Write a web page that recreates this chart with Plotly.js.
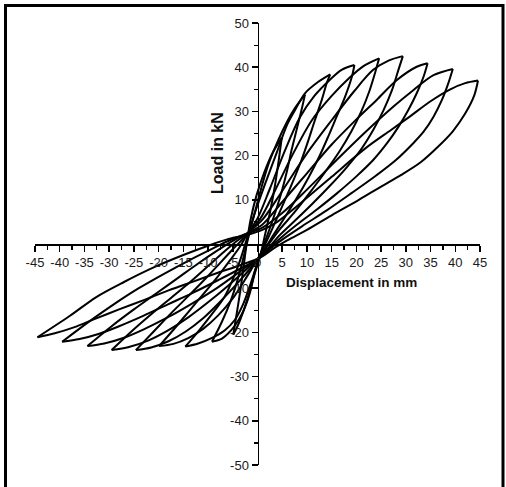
<!DOCTYPE html>
<html>
<head>
<meta charset="utf-8">
<script src="https://cdn.plot.ly/plotly-3.0.1.min.js"></script>
<style>
  html, body { margin: 0; padding: 0; background: #fff; }
  #chart { width: 506px; height: 487px; }
</style>
</head>
<body>
<div id="chart"></div>
<script>
// Load–displacement hysteresis cycles, one closed path per target displacement.
// Each path starts at the negative peak, climbs to the positive peak and comes back.
const cycle5 = [[-4.9,-20.5],[-4.1,-15],[-3.4,-10],[-2.8,-5],[-2.2,0],[-1.4,5.5],[-0.2,11],[1.3,16],[3,20.5],[4.9,24],
  [4.3,19],[3.5,13],[2.5,7],[1.5,2],[0.6,-2.5],[-0.5,-6.5],[-1.5,-10.5],[-2.8,-15],[-4,-18.5],[-4.9,-20.5]];
const cycle10 = [[-9.2,-22.1],[-7.2,-17.6],[-5.4,-12.8],[-4,-8],[-3,-3.8],[-2,0.8],[-0.8,6],[0.6,12],[2.2,18],[4.2,23.5],
  [5.9,27.5],[7.6,30.8],[9.6,33.8],[8.9,30.3],[7.9,25.8],[6.9,21.3],[6,16.7],[4.8,11.5],[3.4,6.5],[2,2],[0.4,-2.9],
  [-0.6,-6.5],[-1.6,-11.3],[-3,-15.5],[-4.6,-18.5],[-6,-20.3],[-7.5,-21.6],[-9.2,-22.1]];
const cycle15 = [[-14.6,-23.2],[-12,-19.8],[-9.3,-16],[-6.6,-11.8],[-4.8,-7.5],[-3.4,-3.3],[-2.2,1],[-0.7,6.5],[1.5,13.5],
  [4,21],[6,27],[7.6,30.3],[9.6,34.1],[12.3,36.7],[14.7,38.4],[14,36.4],[13,32.6],[11.6,28],[10.3,23.5],[8.9,19],[7.3,14.5],
  [5.5,9.8],[3.6,5],[2,1],[0.5,-2.6],[-0.6,-6.3],[-1.7,-10],[-2.9,-13.6],[-4.6,-17.2],[-6.6,-19.5],[-9.3,-21.3],[-12,-22.5],[-14.6,-23.2]];
const cycle20 = [[-19.9,-23.1],[-17,-19.4],[-14,-15.4],[-11,-11.4],[-8,-7.3],[-5.5,-3.6],[-3.5,-0.5],[-2.2,2],[0,5.8],
  [2.5,12.5],[5.5,21],[8.5,28.5],[11.5,33.5],[14.5,37],[17,39.4],[19.6,40.5],[19.1,37.9],[17.7,33.3],[16,28.8],[14.3,24.3],
  [12.5,19.8],[10.3,15],[8,10.5],[5.5,6],[3.2,2],[1.5,-1],[0.3,-2.9],[-0.8,-4.9],[-2.6,-8.2],[-5,-12.3],[-8,-16.2],
  [-11,-19.2],[-14,-21.3],[-17,-22.6],[-19.9,-23.1]];
const cycle25 = [[-24.6,-24],[-21,-19.8],[-17.5,-15.7],[-14,-11.8],[-10.5,-7.8],[-7.5,-4.2],[-5,-1.2],[-2,2.3],[0.6,5.8],
  [3.5,12],[7,20],[11,28],[15,33.5],[18.5,37.5],[21.5,40.3],[24.6,42],[23.8,38.8],[22.6,34.5],[21,30],[19,25.5],[16.5,20.8],
  [13.5,16],[10.5,11.5],[7.5,7.2],[4.5,3.3],[2.3,0],[0.6,-2.7],[-1.5,-5.6],[-4,-8.8],[-7.5,-13],[-11,-16.8],[-14.5,-19.8],
  [-18,-22],[-21.5,-23.4],[-24.6,-24]];
const cycle30 = [[-29.5,-24],[-25.5,-19.8],[-21.5,-15.9],[-17.5,-12.2],[-13.5,-8.5],[-10,-5],[-7,-2],[-4.5,0.4],[-2.4,2.1],
  [1,5.5],[5,12],[10,20.5],[15,28],[19.5,34.5],[23.4,39.4],[26.5,41.5],[29.4,42.5],[28.5,39.4],[27.2,34.8],[25.5,30.3],
  [23.4,25.8],[21,21.5],[18,17.3],[14.5,13],[11,9],[7.5,5.2],[4.5,2],[2.2,-0.9],[0.4,-3],[-2.5,-6],[-6,-9.5],[-10,-13.2],
  [-14,-16.6],[-18,-19.5],[-22,-21.8],[-26,-23.3],[-29.5,-24]];
const cycle35 = [[-34.4,-23.1],[-29.5,-18.6],[-25,-14.8],[-20.5,-11.2],[-16,-7.6],[-12,-4.4],[-8,-1.4],[-5,0.7],[-2.1,2.4],
  [1,4.4],[5,9.5],[10,16],[15,22.5],[20,28.2],[24.1,32.6],[28.2,37.1],[32.2,40.1],[34.4,40.9],[33.6,37.9],[32.2,34.1],
  [30.5,30.3],[28.5,26.5],[26.2,22.8],[23.4,19],[20,15.3],[16,11.4],[12,7.8],[8,4.4],[4.5,1.2],[2.3,-1],[0.7,-2.8],
  [-3.5,-6.2],[-8,-9.8],[-13,-13.3],[-18,-16.5],[-23,-19.3],[-27,-21.2],[-31,-22.5],[-34.4,-23.1]];
const cycle40 = [[-39.5,-22.1],[-34,-17.5],[-29,-13.6],[-24,-10],[-19,-6.8],[-14,-3.8],[-9,-1],[-5.5,0.9],[-2.5,2.2],
  [1,3.7],[5,7],[10,12.3],[16,19],[22,25.5],[27.5,31.1],[31.5,34.8],[35.6,38.2],[39.5,39.6],[38.6,36.4],[37.3,32.6],
  [35.6,28.8],[33.6,25.4],[31.5,22.8],[28,19],[24,15.5],[19,11.5],[14,7.6],[9,4],[5,1],[2.5,-1.1],[0.5,-3.1],[-3.5,-5.6],
  [-8,-8.2],[-13,-11],[-18,-13.6],[-23,-16.2],[-28,-18.6],[-32,-20.3],[-36,-21.5],[-39.5,-22.1]];
const cycle45 = [[-44.5,-21.1],[-38,-16.3],[-32.6,-12],[-27,-8.6],[-21,-5.3],[-15,-2.5],[-10,-0.4],[-6,1.1],[-2.3,2],
  [1,3.2],[4,5],[9,9.5],[15,15.2],[22,21.8],[27,25.8],[31,29],[35,32.3],[39,35],[42,36.4],[44.6,37],[43.8,33.5],[42,29.5],
  [39.5,25.5],[36.5,22],[33,18.5],[29,15.6],[25,13],[20.5,10],[15,6.5],[10,3.2],[6,0.8],[3,-1.2],[0.8,-2.9],[-3.5,-4.8],
  [-8,-6.5],[-13,-8.5],[-18,-10.5],[-23,-12.7],[-28,-14.8],[-33,-17],[-37,-18.8],[-41,-20.2],[-44.5,-21.1]];

const cycles = [cycle5, cycle10, cycle15, cycle20, cycle25, cycle30, cycle35, cycle40, cycle45];

// Axis ticks
const xTicks = [-45,-40,-35,-30,-25,-20,-15,-10,-5,0,5,10,15,20,25,30,35,40,45];
const xMinorTicks = [-42.5,-37.5,-32.5,-27.5,-22.5,-17.5,-12.5,-7.5,-2.5,2.5,7.5,12.5,17.5,22.5,27.5,32.5,37.5,42.5];
const yTicks = [-50,-40,-30,-20,-10,10,20,30,40,50];
const yMinorTicks = [-45,-35,-25,-15,-5,5,15,25,35,45];

// Split every cycle at its positive peak so each half is smoothed on its own
// and the peaks stay sharp.
const traces = [];
cycles.forEach(function (pts) {
  let iMax = 0;
  pts.forEach(function (p, i) { if (p[0] > pts[iMax][0]) iMax = i; });
  [pts.slice(0, iMax + 1), pts.slice(iMax)].forEach(function (seg) {
    traces.push({
      type: 'scatter', mode: 'lines',
      x: seg.map(function (p) { return p[0]; }),
      y: seg.map(function (p) { return p[1]; }),
      line: { color: '#000', width: 2, shape: 'spline', smoothing: 0.9 },
      hoverinfo: 'skip', showlegend: false
    });
  });
});

const ML = 35, MR = 26, MT = 23, MB = 22, W = 506, H = 487;
const pw = W - ML - MR, ph = H - MT - MB;
const px = function (p) { return (p - ML) / pw; };
const py = function (p) { return (H - MB - p) / ph; };

const tickFont = { family: 'Liberation Sans, Arial, sans-serif', size: 13, color: '#1a1a1a' };
const titleFont = { family: 'Liberation Sans, Arial, sans-serif', size: 13, color: '#111', weight: 'bold' };

const layout = {
  width: W, height: H,
  margin: { l: ML, r: MR, t: MT, b: MB },
  paper_bgcolor: '#fff', plot_bgcolor: '#fff',
  showlegend: false,
  xaxis: {
    range: [-45, 45], anchor: 'free', position: 0.5,
    showline: true, linecolor: '#000', linewidth: 1.5,
    showgrid: false, zeroline: false,
    ticks: 'outside', ticklen: 6, tickwidth: 1.5, tickcolor: '#000',
    tickvals: xTicks, ticktext: xTicks.map(String),
    minor: { tickvals: xMinorTicks, ticks: 'outside', ticklen: 4, tickwidth: 1.2, tickcolor: '#000' },
    tickfont: tickFont
  },
  yaxis: {
    range: [-50, 50], anchor: 'free', position: 0.5,
    showline: true, linecolor: '#000', linewidth: 1.5,
    showgrid: false, zeroline: false,
    ticks: 'outside', ticklen: 6, tickwidth: 1.5, tickcolor: '#000',
    tickvals: yTicks, ticktext: yTicks.map(String),
    minor: { tickvals: yMinorTicks, ticks: 'outside', ticklen: 4, tickwidth: 1.2, tickcolor: '#000' },
    tickfont: tickFont
  },
  annotations: [
    { text: 'Displacement in mm', x: 19.0, y: -8.8, xref: 'x', yref: 'y',
      showarrow: false, font: Object.assign({}, titleFont, { size: 13.5 }) },
    { text: 'Load in kN', x: -8.1, y: 20.7, xref: 'x', yref: 'y', textangle: -90,
      showarrow: false, font: Object.assign({}, titleFont, { size: 16 }) }
  ],
  shapes: [
    { type: 'path', xref: 'paper', yref: 'paper',
      path: 'M ' + px(5.5) + ' ' + py(495) + ' L ' + px(5.5) + ' ' + py(5.5) +
            ' L ' + px(503) + ' ' + py(5.5) + ' L ' + px(503) + ' ' + py(495),
      line: { color: '#000', width: 3 } }
  ]
};

Plotly.newPlot('chart', traces, layout, { displayModeBar: false, staticPlot: true });
</script>
</body>
</html>
